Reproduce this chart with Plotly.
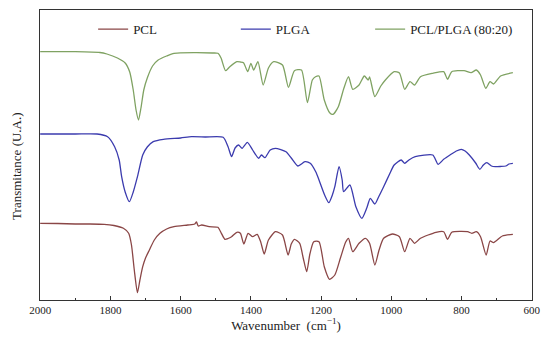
import plotly.graph_objects as go

# Wavenumber (cm-1) and transmittance (arbitrary units, offset stacked)
pcl_wn = [2000, 1950, 1900, 1860, 1818, 1790, 1763, 1748, 1740, 1732, 1723, 1716, 1708, 1700, 1689, 1675,
          1659, 1640, 1619, 1580, 1560, 1555, 1550, 1540, 1519, 1494, 1484, 1474, 1465, 1455, 1440, 1430,
          1420, 1408, 1395, 1382, 1372, 1362, 1350, 1330, 1310, 1294, 1285, 1276, 1261, 1251, 1241, 1232,
          1221, 1206, 1191, 1176, 1161, 1145, 1130, 1122, 1110, 1092, 1074, 1062, 1047, 1035, 1022, 997,
          977, 962, 947, 934, 917, 873, 851, 840, 828, 783, 771, 758, 746, 730, 719, 709, 684, 654]
pcl_t = [76.7, 76.5, 76, 76, 75.7, 74.5, 71.7, 66.7, 55, 30, 7.3, 20, 33.3, 42, 50, 60,
         66.7, 71, 73.3, 75, 76, 78, 74, 75, 73.3, 72.7, 66.7, 60.7, 61.5, 63.3, 67.7, 66.7,
         56, 66.7, 63.3, 65.7, 58, 46, 60, 68.3, 65, 45, 56, 60.7, 56.7, 42, 28.3, 46,
         58.3, 58.3, 33.3, 20.7, 25, 42, 58, 61.7, 48.3, 56.7, 61.7, 56.7, 35, 50, 61.7, 66,
         63.3, 48.3, 61.7, 56.7, 61.7, 67.7, 68.3, 60.7, 67.7, 68.3, 66.7, 68.3, 63.3, 45, 59, 57.3, 64, 65.7]

plga_wn = [2000, 1900, 1838, 1808, 1788, 1775, 1768, 1758, 1746, 1735, 1723, 1708, 1695, 1678, 1649, 1600,
           1569, 1530, 1479, 1465, 1455, 1445, 1435, 1425, 1410, 1395, 1378, 1370, 1360, 1345, 1330, 1300,
           1285, 1266, 1246, 1231, 1215, 1206, 1190, 1178, 1168, 1161, 1149, 1140, 1136, 1118, 1101, 1084,
           1070, 1060, 1047, 1035, 1022, 1005, 992, 972, 962, 950, 932, 882, 867, 851, 833, 815, 801, 790,
           778, 760, 748, 738, 728, 715, 704, 690, 674, 665, 654]
plga_t = [166, 166, 166, 163.3, 153.3, 140, 123.3, 108, 98.3, 108, 123.3, 145, 153, 158.3, 160.7, 162,
          163.3, 163, 162.7, 153.3, 143.3, 152, 155, 151.7, 157.7, 150, 141.7, 145, 142.3, 150, 151.7, 148.3,
          142, 134, 138.3, 136.7, 128, 120, 105, 97.3, 105, 113.3, 133.3, 120, 108.3, 115, 93.3, 81.7,
          92, 101.7, 96, 104, 113.3, 126, 135, 140, 136.7, 140, 143.3, 145, 135.7, 140.7, 145, 149, 150.7, 149,
          145, 137, 130.7, 135, 137.3, 134, 133.3, 133.5, 134, 136, 136.7]

blend_wn = [2000, 1900, 1830, 1810, 1780, 1758, 1745, 1735, 1727, 1720, 1713, 1705, 1695, 1680, 1664, 1640,
            1619, 1559, 1510, 1494, 1485, 1472, 1460, 1440, 1430, 1421, 1409, 1400, 1392, 1380, 1365, 1350,
            1335, 1310, 1293, 1276, 1256, 1239, 1225, 1216, 1206, 1191, 1175, 1166, 1151, 1135, 1122, 1110,
            1092, 1077, 1066, 1062, 1047, 1030, 1017, 992, 977, 962, 947, 934, 917, 882, 851, 840, 828, 793,
            773, 758, 746, 731, 719, 709, 689, 654]
blend_t = [248.3, 248.3, 247.5, 246, 242, 237, 228, 210, 190, 180, 192, 210, 222, 234, 240, 244,
           246.7, 247.3, 247, 246.7, 242, 229.3, 233.3, 238.3, 238, 237.3, 228.3, 236.7, 230, 238.3, 215, 232,
           238.3, 235, 212.7, 229.3, 230, 197.3, 220, 223.3, 224, 200, 187, 185.7, 193.3, 212, 223.3, 210.7,
           215, 224, 220, 223, 203.3, 214, 220, 228.3, 227, 210.7, 218.3, 215, 223.3, 226.7, 228.3, 220.7, 228.3, 229.3,
           227.3, 230, 225, 211.7, 218.3, 216, 224, 227.3]

x_ticks = [2000, 1800, 1600, 1400, 1200, 1000, 800, 600]

FONT = "Liberation Serif, Times New Roman, serif"

fig = go.Figure()
fig.add_trace(go.Scatter(x=pcl_wn, y=pcl_t, mode="lines", name="PCL", legend="legend",
                         line=dict(color="#8a4646", width=1.3, shape="spline", smoothing=0.6)))
fig.add_trace(go.Scatter(x=plga_wn, y=plga_t, mode="lines", name="PLGA", legend="legend2",
                         line=dict(color="#3b3bae", width=1.3, shape="spline", smoothing=0.6)))
fig.add_trace(go.Scatter(x=blend_wn, y=blend_t, mode="lines", name="PCL/PLGA (80:20)", legend="legend3",
                         line=dict(color="#7fa262", width=1.3, shape="spline", smoothing=0.6)))

leg_common = dict(orientation="h", yanchor="middle", xanchor="left", bgcolor="rgba(0,0,0,0)",
                  font=dict(family=FONT, size=13, color="#222"), borderwidth=0)

# The page body has an 8px margin, so the figure is sized/margined to put the
# plot area at x 40-532, y 10-300 of the window.
fig.update_layout(
    width=542, height=335,
    margin=dict(l=32, r=18, t=2, b=43),
    paper_bgcolor="white", plot_bgcolor="white",
    showlegend=True,
    font=dict(family=FONT, color="#222"),
    legend=dict(x=0.108, y=0.934, **leg_common),
    legend2=dict(x=0.398, y=0.934, **leg_common),
    legend3=dict(x=0.671, y=0.934, **leg_common),
    xaxis=dict(range=[2000.5, 599.5], tickvals=x_ticks, ticktext=[str(v) for v in x_ticks],
               tickmode="array", ticks="inside", ticklen=4, tickcolor="#333",
               minor=dict(dtick=100, ticks="inside", ticklen=2, tickcolor="#333"),
               showline=True, linecolor="#333", linewidth=1, mirror=True, showgrid=False, zeroline=False,
               ticklabeloverflow="allow",
               tickfont=dict(family=FONT, size=11, color="#222"),
               title=dict(text="Wavenumber  (cm<sup>−1</sup>)", font=dict(family=FONT, size=13, color="#222"),
                          standoff=4)),
    yaxis=dict(range=[0, 290], showticklabels=False, ticks="", showline=True, linecolor="#333",
               linewidth=1, mirror=True, showgrid=False, zeroline=False),
    annotations=[dict(text="Transmitance (U.A.)", textangle=-90, xref="paper", yref="paper",
                      x=-0.049, y=0.462, xanchor="center", yanchor="middle", showarrow=False,
                      font=dict(family=FONT, size=13, color="#222"))],
)

fig.write_html("out.html")
